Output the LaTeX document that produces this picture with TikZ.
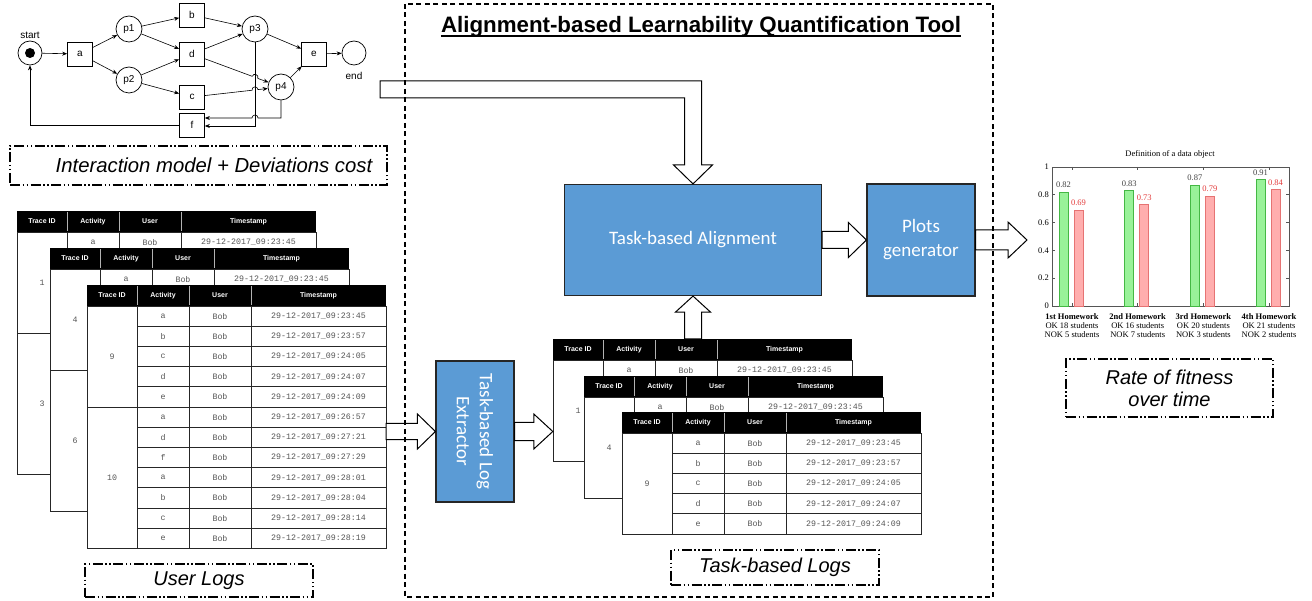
\documentclass[tikz,border=0pt]{standalone}
\usepackage{fontspec}
\setmainfont{Liberation Sans}
\setsansfont{Liberation Sans}
\setmonofont{Liberation Mono}
\newfontfamily\chartfont{Liberation Serif}
\newfontfamily\boxfont{Carlito}
\usetikzlibrary{arrows.meta,calc,intersections}

\definecolor{boxblue}{HTML}{5B9BD5}
\definecolor{cellgray}{HTML}{555555}
\definecolor{barG}{HTML}{99F299}
\definecolor{barGline}{HTML}{44B844}
\definecolor{barR}{HTML}{FFAEAE}
\definecolor{barRline}{HTML}{E67373}
\definecolor{valR}{HTML}{E23B3B}
\definecolor{axisgray}{HTML}{555555}

% header row of a log table: name prefix, left x, top y
\newcommand\tblhead[3]{%
  \node[hd, minimum width=50pt]  (#1h1) at ({#2+25},{#3+10.5})    {Trace ID};
  \node[hd, minimum width=52pt]  (#1h2) at ({#2+76},{#3+10.5})    {Activity};
  \node[hd, minimum width=62pt]  (#1h3) at ({#2+133},{#3+10.5})   {User};
  \node[hd, minimum width=135pt] (#1h4) at ({#2+231.5},{#3+10.5}) {Timestamp};
  \foreach \k in {1,2,3}{\draw[hsep] (#1h\k.north east) -- (#1h\k.south east);}
}
% one event row: name prefix, left x, top y, activity, user, time of day
\newcommand\tblrow[6]{%
  \node[cell, minimum width=52pt]  (#12) at ({#2+76},{#3+10.1})    {#4};
  \node[cell, minimum width=62pt]  (#13) at ({#2+133},{#3+10.1})   {#5};
  \node[cell, minimum width=135pt] (#14) at ({#2+231.5},{#3+10.1}) {29-12-2017\_#6};
}
% merged trace id cell: name, left x, top y, number of rows, id
\newcommand\tbltrace[5]{%
  \node[cell, minimum width=50pt, minimum height={#4*20.2pt}] (#1) at ({#2+25},{#3+#4*10.1}) {#5};
}
% block arrow pointing right: from, tip, shaft half width, head half width, head length
\newcommand\blockright[5]{%
  \draw[blk] ($(#1)+(0,-#3)$) -- ($(#2)+(-#5,-#3)$) -- ($(#2)+(-#5,-#4)$) -- (#2)
    -- ($(#2)+(-#5,#4)$) -- ($(#2)+(-#5,#3)$) -- ($(#1)+(0,#3)$) -- cycle;
}
% block arrow pointing up: from (bottom), tip, shaft half width, head half width, head length
\newcommand\blockup[5]{%
  \draw[blk] ($(#1)+(-#3,0)$) -- ($(#2)+(-#3,#5)$) -- ($(#2)+(-#4,#5)$) -- (#2)
    -- ($(#2)+(#4,#5)$) -- ($(#2)+(#3,#5)$) -- ($(#1)+(#3,0)$) -- cycle;
}

\begin{document}
\begin{tikzpicture}[x=1pt,y=-1pt,
  pnbox/.style={draw, line width=0.7pt, minimum width=25pt, minimum height=24pt, inner sep=0pt, font=\fontsize{10}{12}\selectfont},
  pnplace/.style={draw, circle, line width=0.7pt, minimum size=26pt, inner sep=0pt, font=\fontsize{10}{12}\selectfont},
  pn/.style={line width=0.6pt, -{Stealth[length=5pt,width=4pt]}},
  lbl/.style={inner sep=0pt, font=\fontsize{10}{12}\selectfont},
  capbox/.style={draw, line width=1.3pt, dash pattern=on 10pt off 2.5pt on 1.5pt off 2.5pt on 1.5pt off 2.5pt,
    inner sep=0pt, align=center, font=\itshape\fontsize{20}{22}\selectfont},
  captext/.style={inner sep=0pt, align=center, font=\itshape\fontsize{20.3}{22}\selectfont},
  bluebox/.style={draw=black!85, line width=1.2pt, fill=boxblue, text=white, align=center, inner sep=0pt,
    font=\boxfont\fontsize{19}{24}\selectfont},
  blk/.style={draw=black, line width=1pt, fill=white, line join=miter},
  frame/.style={line width=1.2pt, dash pattern=on 5pt off 3.5pt},
  hd/.style={fill=black, text=white, inner sep=0pt, minimum height=21pt, font=\bfseries\fontsize{7}{8}\selectfont},
  hsep/.style={draw=gray!60, line width=0.7pt, shorten <=1.5pt, shorten >=1.5pt},
  cell/.style={draw=black!85, line width=0.9pt, fill=white, inner sep=0pt, minimum height=20.2pt,
    text=cellgray, font=\ttfamily\fontsize{8.3}{10}\selectfont},
  axisline/.style={draw=axisgray, line width=0.6pt},
  ctick/.style={inner sep=1pt, font=\chartfont\fontsize{8.5}{10}\selectfont},
  cval/.style={inner sep=0pt, font=\chartfont\fontsize{8.5}{10}\selectfont},
  ccat/.style={inner sep=0pt, align=center, font=\chartfont\fontsize{8.5}{9}\selectfont},
  barg/.style={fill=barG, draw=barGline, line width=0.7pt},
  barr/.style={fill=barR, draw=barRline, line width=0.7pt}]
\useasboundingbox (0,0) rectangle (1312,601);

% ---------- interaction model (Petri net) ----------
\node[pnplace, minimum size=24pt] (pstart) at (30,53) {};
\node[circle, fill=black, minimum size=10pt, inner sep=0pt] (token) at (pstart) {};
\node[lbl] (startlbl) at (30,35) {start};
\node[pnbox] (a) at (80,54) {a};
\node[pnplace] (p1) at (129,29) {p1};
\node[pnplace] (p2) at (129,80) {p2};
\node[pnbox] (b) at (192,15) {b};
\node[pnbox] (d) at (192,54) {d};
\node[pnbox] (c) at (192,97) {c};
\node[pnplace] (p3) at (255,29) {p3};
\node[pnplace] (p4) at (281,87) {p4};
\node[pnbox] (e) at (314,54) {e};
\node[pnplace, minimum size=24pt] (pend) at (354,53) {};
\node[lbl] (endlbl) at (354,76) {end};
\node[pnbox] (f) at (192,125) {f};

\draw[pn] (pstart) -- (a);
\draw[pn] (a) -- (p1);
\draw[pn] (a) -- (p2);
\draw[pn] (p1) -- (b);
\draw[pn] (p1) -- (d);
\draw[pn] (p2) -- (d);
\draw[pn] (p2) -- (c);
\draw[pn] (b) -- (p3);
\draw[pn] (d) -- (p3);
\draw[pn] (p3) -- (e);
\draw[pn] (p4) -- (e);
\draw[pn] (e) -- (pend);

% arcs hopping over the line that leaves p3 downwards
\path[name path=pthreedown] (p3.south) -- (p3.south |- 0,126);
\path[name path=dtofour] (d) -- (p4);
\path[name path=ctofour] (c) -- (p4);
\path[name intersections={of=pthreedown and dtofour, by=hopd}];
\path[name intersections={of=pthreedown and ctofour, by=hopc}];
\draw[pn] (d) -- ($(hopd)!3pt!(d)$) to[bend left=90, looseness=1.7] ($(hopd)!3pt!(p4)$) -- (p4);
\draw[pn] (c) -- ($(hopc)!3pt!(c)$) to[bend left=90, looseness=1.7] ($(hopc)!3pt!(p4)$) -- (p4);
\draw[pn] (p3.south) |- (f.east |- 0,126);
\coordinate (hopf) at (p3.south |- 0,118);
\draw[pn] (p4.south) |- ($(hopf)+(3,0)$) arc[start angle=0, end angle=180, radius=3pt] -- (f.east |- 0,118);
\draw[pn] (f.west) -| (pstart.south);

\node[capbox, minimum width=377pt, minimum height=39pt] (capim) at (198.5,165.5) {};
\node[captext] (capimtxt) at (214,165.5) {Interaction model + Deviations cost};

% ---------- user logs ----------
\tblhead{ua}{17}{211}
\tbltrace{uat1}{17}{232}{5}{1}
\tbltrace{uat3}{17}{333}{7}{3}
\tblrow{ua0}{17}{232}{a}{Bob}{09:23:45}

\tblhead{ub}{50}{248}
\tbltrace{ubt4}{50}{269}{5}{4}
\tbltrace{ubt6}{50}{370}{7}{6}
\tblrow{ub0}{50}{269}{a}{Bob}{09:23:45}

\tblhead{uc}{87}{285}
\tbltrace{uct9}{87}{306}{5}{9}
\tbltrace{uct10}{87}{407}{7}{10}
\foreach \act/\tm [count=\i from 0] in {a/09:23:45,b/09:23:57,c/09:24:05,d/09:24:07,e/09:24:09,
    a/09:26:57,d/09:27:21,f/09:27:29,a/09:28:01,b/09:28:04,c/09:28:14,e/09:28:19}
  {\tblrow{ucr\i}{87}{306+\i*20.2}{\act}{Bob}{\tm}}

\node[capbox, minimum width=228pt, minimum height=33pt] (capul) at (199,580.5) {User Logs};

% ---------- task-based logs ----------
\tblhead{ta}{553}{339}
\tbltrace{tat1}{553}{360}{5}{1}
\tblrow{ta0}{553}{360}{a}{Bob}{09:23:45}

\tblhead{tb}{584}{376}
\tbltrace{tbt4}{584}{397}{5}{4}
\tblrow{tb0}{584}{397}{a}{Bob}{09:23:45}

\tblhead{tc}{622}{412}
\tbltrace{tct9}{622}{433}{5}{9}
\foreach \act/\tm [count=\i from 0] in {a/09:23:45,b/09:23:57,c/09:24:05,d/09:24:07,e/09:24:09}
  {\tblrow{tcr\i}{622}{433+\i*20.2}{\act}{Bob}{\tm}}

\node[capbox, minimum width=208pt, minimum height=35pt] (captl) at (775,567.5) {Task-based Logs};

% ---------- tool components ----------
\node[font=\bfseries\fontsize{22.3}{26}\selectfont, inner sep=0pt, anchor=base] (title) at (701,33)
  {Alignment-based Learnability Quantification Tool};
\draw[line width=1.4pt] ([yshift=-3pt]title.base west) -- ([yshift=-3pt]title.base east);

\node[bluebox, minimum width=257pt, minimum height=111pt] (tba) at (693,240) {Task-based Alignment};
\node[bluebox, minimum width=108pt, minimum height=112pt] (plots) at (921,240) {Plots\\generator};
\node[bluebox, minimum width=78pt, minimum height=141pt] (ext) at (475,431.5) {};
\node[rotate=-90, text=white, align=center, inner sep=0pt, font=\boxfont\fontsize{19}{23}\selectfont]
  (extlbl) at (ext.center) {Task-based Log\\Extractor};

% ---------- block arrows ----------
\coordinate (pnout) at (380,89.5);
\draw[blk] ($(pnout)+(0,-8.5)$) -- ($(pnout -| tba.north)+(8.5,-8.5)$) -- ($(tba.north)+(8.5,-19)$)
  -- ($(tba.north)+(19.5,-19)$) -- (tba.north) -- ($(tba.north)+(-19.5,-19)$)
  -- ($(tba.north)+(-8.5,-19)$) -- ($(pnout -| tba.north)+(-8.5,8.5)$) -- ($(pnout)+(0,8.5)$) -- cycle;
\blockright{tba.east}{plots.west}{8.5}{17.5}{18}
\coordinate (chartin) at (1027,240);
\blockright{plots.east}{chartin}{10}{18}{19}
\coordinate (ulout) at (ext.west -| uch4.east);
\blockright{ulout}{ext.west}{8}{17.5}{18}
\coordinate (tlin) at (ext.east -| tah1.west);
\blockright{ext.east}{tlin}{9}{17.5}{19}
\coordinate (tlout) at (tba.south |- tah1.north);
\blockup{tlout}{tba.south}{8.5}{17.5}{16}

% ---------- rate of fitness chart ----------
\node[inner sep=0pt, font=\chartfont\fontsize{8.5}{10}\selectfont] (ctitle) at (1170,154) {Definition of a data object};
\draw[axisline] (1052,167) rectangle (1289,306);
\foreach \v [count=\i] in {0,0.2,0.4,0.6,0.8,1} {
  \draw[axisline] (1052,{306-139*\v}) -- ++(3,0);
  \draw[axisline] (1289,{306-139*\v}) -- ++(-3,0);
  \node[ctick, anchor=east] (yt\i) at (1050,{306-139*\v}) {\v};
}
\foreach \g/\gv/\rv/\nm/\ok/\nok [count=\i] in {1072/0.82/0.69/1st/18/5, 1137.7/0.83/0.73/2nd/16/7,
    1203.4/0.87/0.79/3rd/20/3, 1269/0.91/0.84/4th/21/2} {
  \draw[axisline] (\g,167) -- ++(0,3);
  \draw[axisline] (\g,306) -- ++(0,-3);
  \draw[barg] ({\g-13},306) rectangle ({\g-4},{306-139*\gv});
  \draw[barr] ({\g+2},306) rectangle ({\g+11},{306-139*\rv});
  \node[cval, text=black!75] (gval\i) at ({\g-8.5},{306-139*\gv-7}) {\gv};
  \node[cval, text=valR] (rval\i) at ({\g+6.5},{306-139*\rv-7}) {\rv};
  \node[ccat] (cat\i) at (\g,326) {\textbf{\nm\ Homework}\\OK \ok\ students\\NOK \nok\ students};
}

\node[capbox, minimum width=207pt, minimum height=58pt] (caprf) at (1169.5,388) {Rate of fitness\\over time};

% ---------- tool boundary ----------
\draw[frame] (405,4) rectangle (993,597);
\end{tikzpicture}
\end{document}
